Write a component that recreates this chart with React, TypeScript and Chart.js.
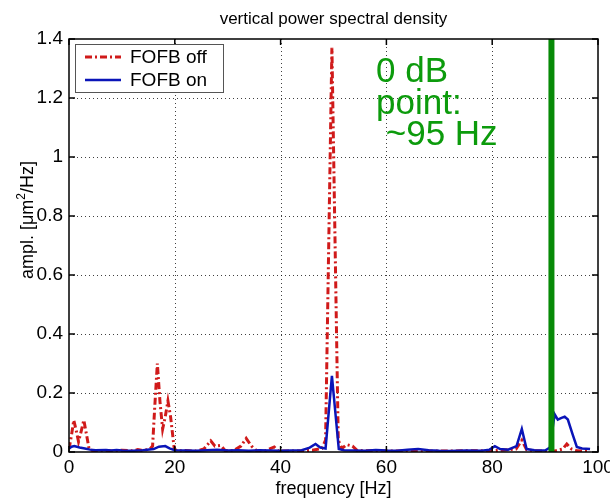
import React, { useEffect, useRef } from 'react';
import { Chart, registerables } from 'chart.js';

Chart.register(...registerables);

// ---- data ----
const titleText = 'vertical power spectral density';
const xTitleText = 'frequency [Hz]';
const yTitleParts = ['ampl. [\u03bcm', '2', '/Hz]'];
const seriesLabels = ['FOFB off', 'FOFB on'];
const annotationLines = ['0 dB', 'point:', ' ~95 Hz'];
const zeroDbFreq = 91.2;

const xTicks = [0, 20, 40, 60, 80, 100];
const yTicks = [0, 0.2, 0.4, 0.6, 0.8, 1, 1.2, 1.4];
const yTickLabels = ['0', '0.2', '0.4', '0.6', '0.8', '1', '1.2', '1.4'];

const freqOff = [
  0, 0.5, 0.9, 1.4, 1.8, 2.3, 2.8, 3.3, 3.8, 4.5, 6, 8, 10, 12, 13, 14, 15.3, 15.8, 16.2, 16.7,
  17.2, 17.7, 18.2, 18.7, 19.2, 19.9, 20.5, 22, 24, 25.5, 26.2, 26.8, 27.6, 28.7, 29.5, 31, 32.5,
  33.5, 34.5, 35.5, 37, 38.8, 39.5, 42, 44, 46, 47.8, 48.5, 49.7, 50.9, 51.6, 52.5, 53.6, 54.5,
  57, 60, 65, 70, 75, 80, 84.5, 85.6, 86.5, 88, 90, 92, 93.3, 94.1, 95, 96, 98.5,
];
const ampOff = [
  0.01, 0.06, 0.108, 0.07, 0.035, 0.07, 0.108, 0.06, 0.01, 0.004, 0.005, 0.003, 0.006, 0.004,
  0.008, 0.005, 0.01, 0.02, 0.15, 0.3, 0.17, 0.078, 0.12, 0.173, 0.12, 0.01, 0.004, 0.005, 0.003,
  0.01, 0.025, 0.038, 0.02, 0.022, 0.005, 0.004, 0.02, 0.046, 0.02, 0.004, 0.003, 0.017, 0.004,
  0.003, 0.004, 0.006, 0.012, 0.04, 1.37, 0.04, 0.012, 0.025, 0.02, 0.005, 0.004, 0.003, 0.004,
  0.003, 0.004, 0.004, 0.01, 0.04, 0.008, 0.004, 0.003, 0.004, 0.01, 0.027, 0.01, 0.004, 0.003,
];

const freqOn = [
  0, 0.5, 1, 2, 3, 4, 5, 7, 8, 9, 10, 12, 14, 16, 17, 18.2, 19, 20, 22, 24, 26, 28, 30, 32, 34, 36,
  38, 40, 42, 44, 45.5, 46.6, 47.5, 48.5, 49.7, 51, 52, 54, 56, 58, 60, 62, 64, 66, 68, 70, 72, 75,
  78, 79.5, 80.5, 81.5, 83, 84.6, 85.6, 86.5, 88, 90, 90.9, 91.8, 92.4, 93, 93.7, 94.3, 95.2, 96,
  97, 98.5,
];
const ampOn = [
  0.012, 0.018, 0.02, 0.015, 0.012, 0.008, 0.006, 0.007, 0.005, 0.007, 0.005, 0.004, 0.006, 0.01,
  0.018, 0.02, 0.012, 0.006, 0.005, 0.004, 0.006, 0.008, 0.005, 0.006, 0.004, 0.006, 0.005, 0.004,
  0.005, 0.006, 0.015, 0.027, 0.015, 0.012, 0.258, 0.01, 0.006, 0.005, 0.004, 0.007, 0.005, 0.004,
  0.008, 0.01, 0.006, 0.004, 0.003, 0.005, 0.004, 0.008, 0.02, 0.01, 0.008, 0.02, 0.078, 0.01,
  0.006, 0.005, 0.015, 0.128, 0.11, 0.115, 0.12, 0.11, 0.06, 0.017, 0.012, 0.01,
];

const RED = '#d01a1a';
const BLUE = '#0a14b8';
const GREEN_LINE = '#078a07';
const GREEN_TEXT = '#0c9b0c';
const FONT = 'Liberation Sans, Arial, sans-serif';
const RED_DASH = [7, 3, 2, 3];

export default function App() {
  const ref = useRef<HTMLCanvasElement>(null);

  useEffect(() => {
    document.body.style.margin = '0';
    const canvas = ref.current;
    if (!canvas) return;

    const decor = {
      id: 'decor',
      beforeDatasetsDraw(chart: any) {
        const { ctx, chartArea: a, scales } = chart;
        const xs = scales.x;
        const ys = scales.y;
        ctx.save();
        ctx.strokeStyle = 'rgba(0,0,0,0.75)';
        ctx.lineWidth = 1;
        ctx.setLineDash([1, 3]);
        xTicks.slice(1, -1).forEach((v) => {
          const px = Math.round(xs.getPixelForValue(v)) + 0.5;
          ctx.beginPath();
          ctx.moveTo(px, a.top);
          ctx.lineTo(px, a.bottom);
          ctx.stroke();
        });
        yTicks.slice(1, -1).forEach((v) => {
          const py = Math.round(ys.getPixelForValue(v)) + 0.5;
          ctx.beginPath();
          ctx.moveTo(a.left, py);
          ctx.lineTo(a.right, py);
          ctx.stroke();
        });
        ctx.restore();
      },
      afterDatasetsDraw(chart: any) {
        const { ctx, chartArea: a, scales } = chart;
        const xs = scales.x;
        const ys = scales.y;
        ctx.save();

        // 0 dB line
        const gx = xs.getPixelForValue(zeroDbFreq);
        ctx.strokeStyle = GREEN_LINE;
        ctx.lineWidth = 6;
        ctx.beginPath();
        ctx.moveTo(gx, a.top);
        ctx.lineTo(gx, a.bottom);
        ctx.stroke();

        // frame
        ctx.strokeStyle = '#000';
        ctx.lineWidth = 1.5;
        ctx.strokeRect(a.left, a.top, a.right - a.left, a.bottom - a.top);

        // inside ticks
        const tl = 6;
        xTicks.forEach((v) => {
          const px = xs.getPixelForValue(v);
          ctx.beginPath();
          ctx.moveTo(px, a.bottom);
          ctx.lineTo(px, a.bottom - tl);
          ctx.moveTo(px, a.top);
          ctx.lineTo(px, a.top + tl);
          ctx.stroke();
        });
        yTicks.forEach((v) => {
          const py = ys.getPixelForValue(v);
          ctx.beginPath();
          ctx.moveTo(a.left, py);
          ctx.lineTo(a.left + tl, py);
          ctx.moveTo(a.right, py);
          ctx.lineTo(a.right - tl, py);
          ctx.stroke();
        });

        // legend
        const lx = a.left + 6;
        const ly = a.top + 5;
        const lw = 148;
        const lh = 48;
        ctx.fillStyle = '#fff';
        ctx.fillRect(lx, ly, lw, lh);
        ctx.strokeStyle = '#555';
        ctx.lineWidth = 1;
        ctx.strokeRect(lx + 0.5, ly + 0.5, lw, lh);
        const rows = [
          { y: ly + 13, color: RED, dash: RED_DASH, w: 3 },
          { y: ly + 36, color: BLUE, dash: [], w: 2.5 },
        ];
        rows.forEach((r, i) => {
          ctx.strokeStyle = r.color;
          ctx.lineWidth = r.w;
          ctx.setLineDash(r.dash);
          ctx.beginPath();
          ctx.moveTo(lx + 10, r.y);
          ctx.lineTo(lx + 46, r.y);
          ctx.stroke();
          ctx.setLineDash([]);
          ctx.fillStyle = '#000';
          ctx.font = `19px ${FONT}`;
          ctx.textAlign = 'left';
          ctx.textBaseline = 'middle';
          ctx.fillText(seriesLabels[i], lx + 55, r.y + 1);
        });

        // annotation
        ctx.fillStyle = GREEN_TEXT;
        ctx.font = `35px ${FONT}`;
        ctx.textAlign = 'left';
        ctx.textBaseline = 'alphabetic';
        annotationLines.forEach((t, i) => {
          ctx.fillText(t, 376, 82 + i * 31.5);
        });

        // title
        const cx = (a.left + a.right) / 2;
        ctx.fillStyle = '#000';
        ctx.font = `17px ${FONT}`;
        ctx.textAlign = 'center';
        ctx.textBaseline = 'middle';
        ctx.fillText(titleText, cx, 19);

        // x title
        ctx.font = `18px ${FONT}`;
        ctx.fillText(xTitleText, cx, 489);

        // y title with superscript
        ctx.save();
        ctx.translate(28, 220);
        ctx.rotate(-Math.PI / 2);
        ctx.font = `18px ${FONT}`;
        const w1 = ctx.measureText(yTitleParts[0]).width;
        const w3 = ctx.measureText(yTitleParts[2]).width;
        ctx.font = `12px ${FONT}`;
        const w2 = ctx.measureText(yTitleParts[1]).width;
        const x0 = -(w1 + w2 + w3) / 2;
        ctx.textAlign = 'left';
        ctx.font = `18px ${FONT}`;
        ctx.fillText(yTitleParts[0], x0, 0);
        ctx.font = `12px ${FONT}`;
        ctx.fillText(yTitleParts[1], x0 + w1, -6);
        ctx.font = `18px ${FONT}`;
        ctx.fillText(yTitleParts[2], x0 + w1 + w2, 0);
        ctx.restore();

        ctx.restore();
      },
    };

    const chart = new Chart(canvas, {
      type: 'line',
      data: {
        datasets: [
          {
            label: seriesLabels[0],
            data: freqOff.map((f, i) => ({ x: f, y: ampOff[i] })),
            borderColor: RED,
            borderWidth: 3,
            borderDash: RED_DASH,
            pointRadius: 0,
            tension: 0,
            order: 2,
          },
          {
            label: seriesLabels[1],
            data: freqOn.map((f, i) => ({ x: f, y: ampOn[i] })),
            borderColor: BLUE,
            borderWidth: 2.5,
            pointRadius: 0,
            tension: 0,
            order: 1,
          },
        ],
      },
      options: {
        responsive: false,
        animation: false,
        layout: { padding: { left: 8, right: 12, top: 39, bottom: 0 } },
        scales: {
          x: {
            type: 'linear',
            min: 0,
            max: 100,
            afterBuildTicks: (s: any) => {
              s.ticks = xTicks.map((v) => ({ value: v }));
            },
            afterFit: (s: any) => {
              s.height = 47;
              s.paddingLeft = 0;
              s.paddingRight = 0;
            },
            grid: { display: false, drawTicks: false },
            border: { display: false },
            ticks: {
              font: { family: FONT, size: 19 },
              color: '#000',
              padding: 4,
              maxRotation: 0,
              autoSkip: false,
            },
          },
          y: {
            type: 'linear',
            min: 0,
            max: 1.4,
            afterBuildTicks: (s: any) => {
              s.ticks = yTicks.map((v) => ({ value: v }));
            },
            afterFit: (s: any) => {
              s.width = 61;
              s.paddingTop = 0;
              s.paddingBottom = 0;
            },
            grid: { display: false, drawTicks: false },
            border: { display: false },
            ticks: {
              font: { family: FONT, size: 19 },
              color: '#000',
              padding: 6,
              autoSkip: false,
              callback: (_v: any, i: number) => yTickLabels[i],
            },
          },
        },
        plugins: {
          legend: { display: false },
          tooltip: { enabled: false },
          title: { display: false },
        },
      },
      plugins: [decor],
    });

    return () => chart.destroy();
  }, []);

  return <canvas ref={ref} width={610} height={499} style={{ display: 'block' }} />;
}
